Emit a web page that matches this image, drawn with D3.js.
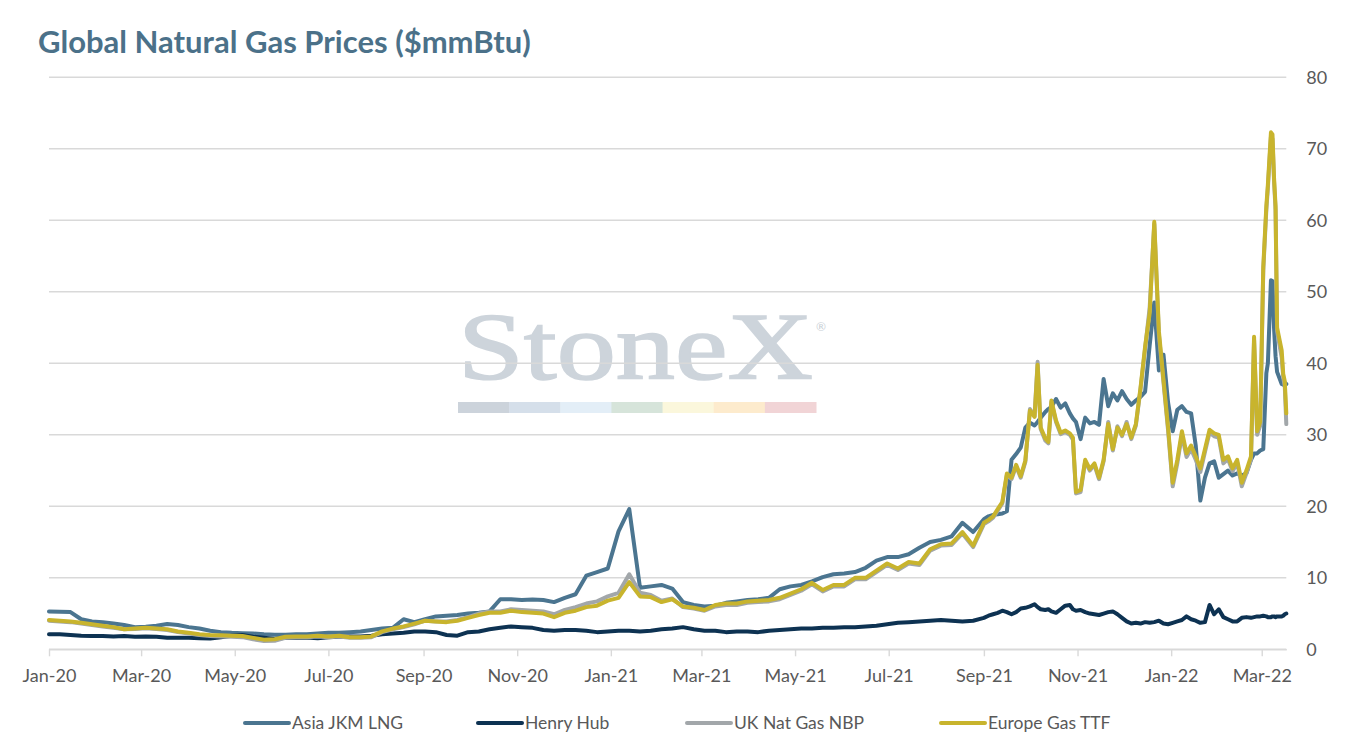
<!DOCTYPE html>
<html>
<head>
<meta charset="utf-8">
<script src="https://cdn.jsdelivr.net/npm/d3@7"></script>
<style>
  body { margin: 0; background: #fff; }
  svg { display: block; }
</style>
</head>
<body>
<div id="chart"></div>
<script>
// x categories: weekly through Aug-21, then every few days
const dates = [
  // 2020 weekly
  "2020-01-01","2020-01-08","2020-01-15","2020-01-22","2020-01-29","2020-02-05","2020-02-12","2020-02-19","2020-02-26","2020-03-04",
  "2020-03-11","2020-03-18","2020-03-25","2020-04-01","2020-04-08","2020-04-15","2020-04-22","2020-04-29","2020-05-06","2020-05-13",
  "2020-05-20","2020-05-27","2020-06-03","2020-06-10","2020-06-17","2020-06-24","2020-07-01","2020-07-08","2020-07-15","2020-07-22",
  "2020-07-29","2020-08-05","2020-08-12","2020-08-19","2020-08-26","2020-09-02","2020-09-09","2020-09-16","2020-09-23","2020-09-30",
  "2020-10-07","2020-10-14","2020-10-21","2020-10-28","2020-11-04","2020-11-11","2020-11-18","2020-11-25","2020-12-02","2020-12-09",
  "2020-12-16","2020-12-23","2020-12-30",
  // 2021 weekly
  "2021-01-06","2021-01-13","2021-01-20","2021-01-27","2021-02-03","2021-02-10","2021-02-17","2021-02-24","2021-03-03","2021-03-10",
  "2021-03-17","2021-03-24","2021-03-31","2021-04-07","2021-04-14","2021-04-21","2021-04-28","2021-05-05","2021-05-12","2021-05-19",
  "2021-05-26","2021-06-02","2021-06-09","2021-06-16","2021-06-23","2021-06-30","2021-07-07","2021-07-14","2021-07-21","2021-07-28",
  "2021-08-04","2021-08-11","2021-08-18","2021-08-25",
  // Sep-21 onwards
  "2021-09-01","2021-09-04","2021-09-07","2021-09-10","2021-09-13","2021-09-16","2021-09-19","2021-09-22","2021-09-25","2021-09-28",
  "2021-10-01","2021-10-04","2021-10-06","2021-10-08","2021-10-11","2021-10-13","2021-10-15","2021-10-18","2021-10-21","2021-10-24","2021-10-27","2021-10-29","2021-10-31",
  "2021-11-03","2021-11-06","2021-11-09","2021-11-12","2021-11-15","2021-11-18","2021-11-21","2021-11-24","2021-11-27","2021-11-30",
  "2021-12-03","2021-12-06","2021-12-09","2021-12-12","2021-12-15","2021-12-18","2021-12-21","2021-12-24","2021-12-27","2021-12-30",
  "2022-01-02","2022-01-05","2022-01-08","2022-01-11","2022-01-14","2022-01-17","2022-01-20","2022-01-23","2022-01-26","2022-01-29",
  "2022-02-01","2022-02-04","2022-02-07","2022-02-10","2022-02-13","2022-02-16","2022-02-19","2022-02-22","2022-02-24","2022-02-26","2022-02-28",
  "2022-03-02","2022-03-04","2022-03-05","2022-03-07","2022-03-08","2022-03-09","2022-03-10","2022-03-11","2022-03-14","2022-03-15","2022-03-16","2022-03-17"
];

const asiaJkm = [
  5.3, 5.25, 5.2, 4.2, 3.9, 3.8, 3.6, 3.4, 3.1, 3.15,
  3.3, 3.55, 3.4, 3.1, 2.9, 2.6, 2.4, 2.3, 2.25, 2.2,
  2.1, 2.05, 2.05, 2.1, 2.1, 2.2, 2.3, 2.3, 2.4, 2.5,
  2.7, 2.9, 3.0, 4.2, 3.8, 4.2, 4.6, 4.7, 4.8, 5.0,
  5.1, 5.3, 7.0, 7.0, 6.9, 6.95, 6.9, 6.6, 7.2, 7.7,
  10.3, 10.8, 11.3,
  16.5, 19.6, 8.6, 8.8, 9.0, 8.5, 6.6, 6.2, 6.0, 6.1,
  6.5, 6.7, 6.9, 7.0, 7.2, 8.4, 8.8, 9.0, 9.5, 10.1,
  10.5, 10.6, 10.8, 11.4, 12.4, 12.9, 12.9, 13.3, 14.2, 15.0,
  15.3, 15.8, 17.7, 16.4,
  18.2, 18.6, 18.8, 18.9, 19.0, 19.3, 26.5, 27.3, 28.2, 31.0,
  31.7, 31.3, 31.8, 32.4, 33.2, 33.6, 33.9, 35.0, 33.8, 34.4, 33.0, 32.3, 31.8,
  29.4, 32.4, 31.6, 31.8, 31.4, 37.8, 34.0, 35.8, 34.8, 36.1,
  35.0, 34.2, 34.8, 35.3, 36.0, 42.5, 48.5, 39.0, 41.2, 34.5,
  30.5, 33.5, 34.0, 33.2, 33.0, 28.5, 20.8, 24.0, 26.0, 26.3,
  24.0, 24.5, 25.0, 24.3, 24.6, 24.3, 24.6, 26.5, 27.4, 27.4, 27.8,
  28.0, 38.6, 40.0, 51.6, 51.5, 45.0, 41.0, 38.8, 37.1, 37.0, 37.3, 37.1
];

const henryHub = [
  2.1, 2.1, 2.0, 1.9, 1.85, 1.85, 1.8, 1.85, 1.75, 1.8,
  1.75, 1.6, 1.6, 1.6, 1.55, 1.5, 1.7, 1.9, 2.0, 1.75,
  1.6, 1.45, 1.6, 1.6, 1.65, 1.55, 1.7, 1.75, 1.8, 1.8,
  1.9, 2.1, 2.2, 2.3, 2.5, 2.5, 2.4, 2.0, 1.9, 2.4,
  2.5, 2.8, 3.0, 3.2, 3.1, 3.0, 2.7, 2.6, 2.7, 2.7,
  2.6, 2.4, 2.5,
  2.6, 2.6, 2.5, 2.6, 2.8, 2.9, 3.1, 2.8, 2.6, 2.6,
  2.4, 2.5, 2.5, 2.4, 2.6, 2.7, 2.8, 2.9, 2.9, 3.0,
  3.0, 3.1, 3.1, 3.2, 3.3, 3.5, 3.7, 3.8, 3.9, 4.0,
  4.1, 4.0, 3.9, 4.0,
  4.4, 4.7, 4.9, 5.1, 5.4, 5.2, 4.9, 5.2, 5.7, 5.8,
  6.0, 6.3, 5.9, 5.6, 5.5, 5.6, 5.3, 5.1, 5.6, 6.1, 6.2, 5.6, 5.4,
  5.5, 5.2, 5.0, 4.9, 4.8, 5.0, 5.2, 5.3, 4.9, 4.4,
  3.9, 3.6, 3.7, 3.6, 3.8, 3.7, 3.8, 4.0, 3.6, 3.5,
  3.7, 3.9, 4.1, 4.6, 4.2, 4.0, 3.7, 3.8, 6.2, 4.9,
  5.6, 4.5, 4.2, 3.9, 3.9, 4.4, 4.5, 4.4, 4.5, 4.6, 4.6,
  4.7, 4.6, 4.5, 4.5, 4.6, 4.6, 4.5, 4.6, 4.6, 4.7, 4.9, 5.0
];

const ukNbp = [
  4.0, 3.9, 3.8, 3.6, 3.4, 3.2, 3.0, 2.8, 2.85, 2.95,
  2.85, 2.7, 2.4, 2.2, 2.0, 1.85, 1.8, 1.75, 1.7, 1.4,
  1.15, 1.2, 1.6, 1.7, 1.7, 1.8, 1.7, 1.8, 1.6, 1.6,
  1.7, 2.4, 2.8, 3.1, 3.5, 4.0, 3.9, 3.9, 4.1, 4.5,
  5.0, 5.3, 5.3, 5.6, 5.5, 5.4, 5.3, 4.9, 5.5, 5.9,
  6.4, 6.7, 7.4,
  7.9, 10.5, 7.9, 7.6, 6.8, 7.1, 5.9, 5.7, 5.4, 6.0,
  6.2, 6.2, 6.5, 6.6, 6.7, 7.0, 7.6, 8.2, 9.1, 8.1,
  8.8, 8.8, 9.8, 9.8, 10.8, 11.8, 11.1, 12.0, 11.8, 13.8,
  14.5, 14.6, 16.2, 14.3,
  17.5, 17.9, 18.4, 19.4, 20.4, 24.4, 23.8, 25.6, 24.0, 26.2,
  33.6, 32.6, 40.2, 30.8, 29.2, 28.8, 34.6, 31.8, 30.1, 30.4, 30.0, 29.3, 21.8,
  22.0, 26.3, 25.0, 25.8, 23.8, 26.3, 31.8, 27.8, 31.2, 29.8,
  31.8, 29.4, 31.3, 36.3, 42.0, 47.8, 59.5, 44.0, 37.3, 30.6,
  22.8, 26.0, 30.0, 26.9, 28.0, 26.5, 24.8, 27.6, 30.3, 29.8,
  29.6, 26.0, 26.6, 24.9, 26.1, 22.8, 24.6, 26.6, 43.3, 30.0, 31.3,
  53.0, 61.5, 64.5, 71.7, 71.4, 65.5, 61.5, 44.5, 40.8, 38.0, 36.8, 31.5
];

const europeTtf = [
  4.1, 4.0, 3.9, 3.7, 3.5, 3.3, 3.1, 2.8, 2.9, 3.0,
  2.9, 2.8, 2.5, 2.3, 2.1, 2.0, 1.95, 1.9, 1.85, 1.6,
  1.35, 1.4, 1.75, 1.8, 1.8, 1.9, 1.8, 1.9, 1.7, 1.7,
  1.8, 2.5, 2.9, 3.2, 3.6, 4.0, 3.9, 3.8, 4.0, 4.4,
  4.8, 5.1, 5.1, 5.4, 5.2, 5.1, 5.0, 4.5, 5.1, 5.4,
  5.9, 6.1, 6.8,
  7.2, 9.4, 7.4, 7.3, 6.6, 7.0, 6.0, 5.8, 5.5, 6.2,
  6.4, 6.4, 6.7, 6.8, 6.9, 7.2, 7.8, 8.4, 9.3, 8.3,
  9.0, 9.0, 10.0, 10.0, 11.0, 12.0, 11.3, 12.2, 12.0, 14.0,
  14.7, 14.8, 16.4, 14.5,
  17.7, 18.1, 18.6, 19.6, 20.6, 24.6, 24.0, 25.8, 24.2, 26.4,
  33.4, 32.5, 39.8, 31.0, 29.5, 29.0, 34.8, 32.0, 30.3, 30.6, 30.2, 29.6, 22.0,
  22.3, 26.5, 25.2, 26.0, 24.0, 26.5, 31.5, 28.0, 31.0, 30.0,
  31.5, 29.6, 31.5, 36.5, 42.3, 47.0, 59.8, 44.5, 37.7, 31.0,
  23.3, 26.5, 30.5, 27.4, 28.5, 27.0, 25.3, 28.0, 30.7, 30.2,
  30.0, 26.5, 27.0, 25.3, 26.5, 23.3, 25.0, 27.0, 43.7, 30.5, 31.8,
  53.5, 62.0, 65.0, 72.3, 72.0, 66.0, 62.0, 45.0, 41.8, 38.5, 37.5, 33.0
];

const seriesNames = ["Asia JKM LNG", "Henry Hub", "UK Nat Gas NBP", "Europe Gas TTF"];
const seriesValues = [asiaJkm, henryHub, ukNbp, europeTtf];
const seriesColors = ["#4b7590", "#0d3252", "#a2a7aa", "#c8b42d"];
const yTicks = [0, 10, 20, 30, 40, 50, 60, 70, 80];
const xStart = "2020-01-01", xEnd = "2022-03-17";

const width = 1347, height = 750;
const plot = { left: 49, right: 1286.3, top: 77.3, bottom: 649.3 };
const gridColor = "#d9d9d9", textColor = "#595959";

const parse = d3.timeParse("%Y-%m-%d");

const svg = d3.select("#chart").append("svg")
    .attr("width", width)
    .attr("height", height)
    .style("font-family", "Lato, 'Open Sans', sans-serif");

const x = d3.scaleTime()
    .domain([parse(xStart), parse(xEnd)])
    .range([plot.left, plot.right]);

const y = d3.scaleLinear()
    .domain([0, 80])
    .range([plot.bottom, plot.top]);

// title
const title = svg.append("text")
    .attr("x", 38)
    .attr("y", 53)
    .style("font-size", "30px")
    .style("font-weight", "bold")
    .style("fill", "#4b7189")
    .text("Global Natural Gas Prices ($mmBtu)");
// fit the title to the width it takes in the reference
const tw = title.node().getComputedTextLength();
title.style("font-size", (30 * 493 / tw).toFixed(2) + "px");

// StoneX watermark
const wm = svg.append("g").attr("class", "watermark");
wm.append("text")
    .attr("x", 458)
    .attr("y", 379)
    .attr("textLength", 355)
    .attr("lengthAdjust", "spacingAndGlyphs")
    .style("font-family", "'Liberation Serif', 'DejaVu Serif', serif")
    .style("font-size", "96px")
    .style("fill", "#cdd4db")
    .style("stroke", "#cdd4db")
    .style("stroke-width", 1.6)
    .text("StoneX");
wm.append("text")
    .attr("x", 816)
    .attr("y", 331)
    .style("font-size", "12px")
    .style("fill", "#c9cfd6")
    .text("®");
const barColors = ["#ccd3db", "#d5dfea", "#e3eef7", "#d6e4da", "#fbf7dc", "#fdebcd", "#f1d4d6"];
const barX = d3.scaleBand().domain(d3.range(barColors.length)).range([458, 816]);
wm.selectAll("rect")
    .data(barColors)
    .join("rect")
    .attr("x", (d, i) => barX(i))
    .attr("y", 402)
    .attr("width", barX.bandwidth() + 0.5)
    .attr("height", 11)
    .attr("fill", d => d);

// gridlines
svg.append("g")
    .selectAll("line")
    .data(yTicks)
    .join("line")
    .attr("x1", plot.left)
    .attr("x2", plot.right)
    .attr("y1", d => y(d))
    .attr("y2", d => y(d))
    .attr("stroke", gridColor)
    .attr("stroke-width", 1.4);

// x axis
const xAxis = svg.append("g")
    .attr("transform", `translate(0,${plot.bottom})`)
    .call(d3.axisBottom(x)
        .ticks(d3.timeMonth.every(2))
        .tickFormat(d3.timeFormat("%b-%y"))
        .tickSize(7)
        .tickSizeOuter(0)
        .tickPadding(13));
xAxis.select(".domain").attr("stroke", gridColor).attr("stroke-width", 1.4);
xAxis.selectAll(".tick line").attr("stroke", gridColor).attr("stroke-width", 1.4);
xAxis.selectAll(".tick text")
    .style("font-family", "Lato, 'Open Sans', sans-serif")
    .style("font-size", "18px")
    .attr("fill", textColor);

// y axis labels on the right
const yAxis = svg.append("g")
    .attr("transform", `translate(${plot.right},0)`)
    .call(d3.axisRight(y).tickValues(yTicks).tickSize(0).tickPadding(20));
yAxis.select(".domain").remove();
yAxis.selectAll(".tick text")
    .style("font-family", "Lato, 'Open Sans', sans-serif")
    .style("font-size", "18px")
    .attr("fill", textColor);

// series lines
const line = d3.line()
    .x(d => x(d.date))
    .y(d => y(d.value));

seriesNames.forEach((name, i) => {
    const pts = dates.map((d, j) => ({ date: parse(d), value: seriesValues[i][j] }));
    svg.append("path")
        .datum(pts)
        .attr("fill", "none")
        .attr("stroke", seriesColors[i])
        .attr("stroke-width", 4)
        .attr("stroke-linejoin", "round")
        .attr("stroke-linecap", "round")
        .attr("d", line);
});

// legend
const legendX = [245, 478, 687, 941];
const legend = svg.append("g").attr("transform", "translate(0,723)");
seriesNames.forEach((name, i) => {
    const g = legend.append("g").attr("transform", `translate(${legendX[i]},0)`);
    g.append("line")
        .attr("x1", 0)
        .attr("x2", 44)
        .attr("stroke", seriesColors[i])
        .attr("stroke-width", 4)
        .attr("stroke-linecap", "round");
    g.append("text")
        .attr("x", 47)
        .attr("dy", "0.35em")
        .style("font-size", "17.5px")
        .style("fill", textColor)
        .text(name);
});
</script>
</body>
</html>
